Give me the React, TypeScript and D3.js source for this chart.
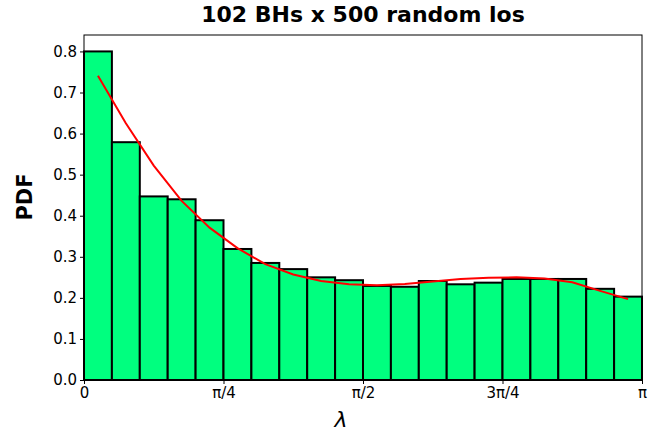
import React, { useRef, useEffect } from 'react';
import * as d3 from 'd3';

// histogram of lambda, 20 bins from 0 to pi
const binCount = 20;
const pdfValues = [
  0.800, 0.579, 0.447, 0.440, 0.389, 0.319, 0.285, 0.270, 0.250, 0.243,
  0.229, 0.227, 0.241, 0.233, 0.237, 0.246, 0.246, 0.246, 0.222, 0.203,
];
// smoothed curve evaluated at bin centres
const fitValues = [
  0.741, 0.625, 0.522, 0.436, 0.371, 0.321, 0.282, 0.257, 0.241, 0.233,
  0.231, 0.234, 0.240, 0.246, 0.249, 0.250, 0.247, 0.238, 0.217, 0.197,
];
const xTickValues = [0, Math.PI / 4, Math.PI / 2, (3 * Math.PI) / 4, Math.PI];
const xTickLabels = ['0', 'π/4', 'π/2', '3π/4', 'π'];
const yTickValues = [0, 0.1, 0.2, 0.3, 0.4, 0.5, 0.6, 0.7, 0.8];

const W = 648, H = 432;
const margin = { top: 35, right: 6, bottom: 52, left: 84 };

export default function App() {
  const ref = useRef<SVGSVGElement>(null);

  useEffect(() => {
    const svg = d3.select(ref.current);
    svg.selectAll('*').remove();

    const x = d3.scaleLinear().domain([0, Math.PI]).range([margin.left, W - margin.right]);
    const y = d3.scaleLinear().domain([0, 0.84]).range([H - margin.bottom, margin.top]);
    const binW = Math.PI / binCount;

    const g = svg.append('g');

    g.selectAll('rect.bar')
      .data(pdfValues)
      .enter().append('rect')
      .attr('class', 'bar')
      .attr('x', (d, i) => x(i * binW))
      .attr('y', d => y(d))
      .attr('width', x(binW) - x(0))
      .attr('height', d => y(0) - y(d))
      .attr('fill', '#00ff7f')
      .attr('stroke', 'black')
      .attr('stroke-width', 2);

    const line = d3.line<number>()
      .x((d, i) => x((i + 0.5) * binW))
      .y(d => y(d));
    g.append('path')
      .datum(fitValues)
      .attr('d', line)
      .attr('fill', 'none')
      .attr('stroke', 'red')
      .attr('stroke-width', 2);

    // frame
    g.append('rect')
      .attr('x', margin.left)
      .attr('y', margin.top)
      .attr('width', W - margin.left - margin.right)
      .attr('height', H - margin.top - margin.bottom)
      .attr('fill', 'none')
      .attr('stroke', 'black')
      .attr('stroke-width', 1);

    const font = 'DejaVu Sans';

    const xAxis = d3.axisBottom(x)
      .tickValues(xTickValues)
      .tickFormat((d, i) => xTickLabels[i])
      .tickSize(4)
      .tickPadding(3);
    const xg = g.append('g').attr('transform', `translate(0,${H - margin.bottom})`).call(xAxis);
    xg.select('.domain').remove();
    xg.selectAll('text').attr('font-family', font).attr('font-size', 15).attr('fill', 'black');

    const yAxis = d3.axisLeft(y)
      .tickValues(yTickValues)
      .tickFormat(d3.format('.1f'))
      .tickSize(4)
      .tickPadding(3);
    const yg = g.append('g').attr('transform', `translate(${margin.left},0)`).call(yAxis);
    yg.select('.domain').remove();
    yg.selectAll('text').attr('font-family', font).attr('font-size', 15).attr('fill', 'black');

    svg.append('text')
      .attr('x', (margin.left + W - margin.right) / 2)
      .attr('y', 22)
      .attr('text-anchor', 'middle')
      .attr('font-family', font)
      .attr('font-weight', 'bold')
      .attr('font-size', 22)
      .text('102 BHs x 500 random los');

    svg.append('text')
      .attr('x', 341)
      .attr('y', 427)
      .attr('text-anchor', 'middle')
      .attr('font-family', font)
      .attr('font-style', 'italic')
      .attr('font-size', 22)
      .text('λ');

    svg.append('text')
      .attr('transform', 'translate(32,197) rotate(-90)')
      .attr('text-anchor', 'middle')
      .attr('font-family', font)
      .attr('font-weight', 'bold')
      .attr('font-size', 21)
      .text('PDF');
  }, []);

  return (
    <svg ref={ref} width={W} height={H}
      style={{ position: 'absolute', left: 0, top: 0, background: 'white' }} />
  );
}
